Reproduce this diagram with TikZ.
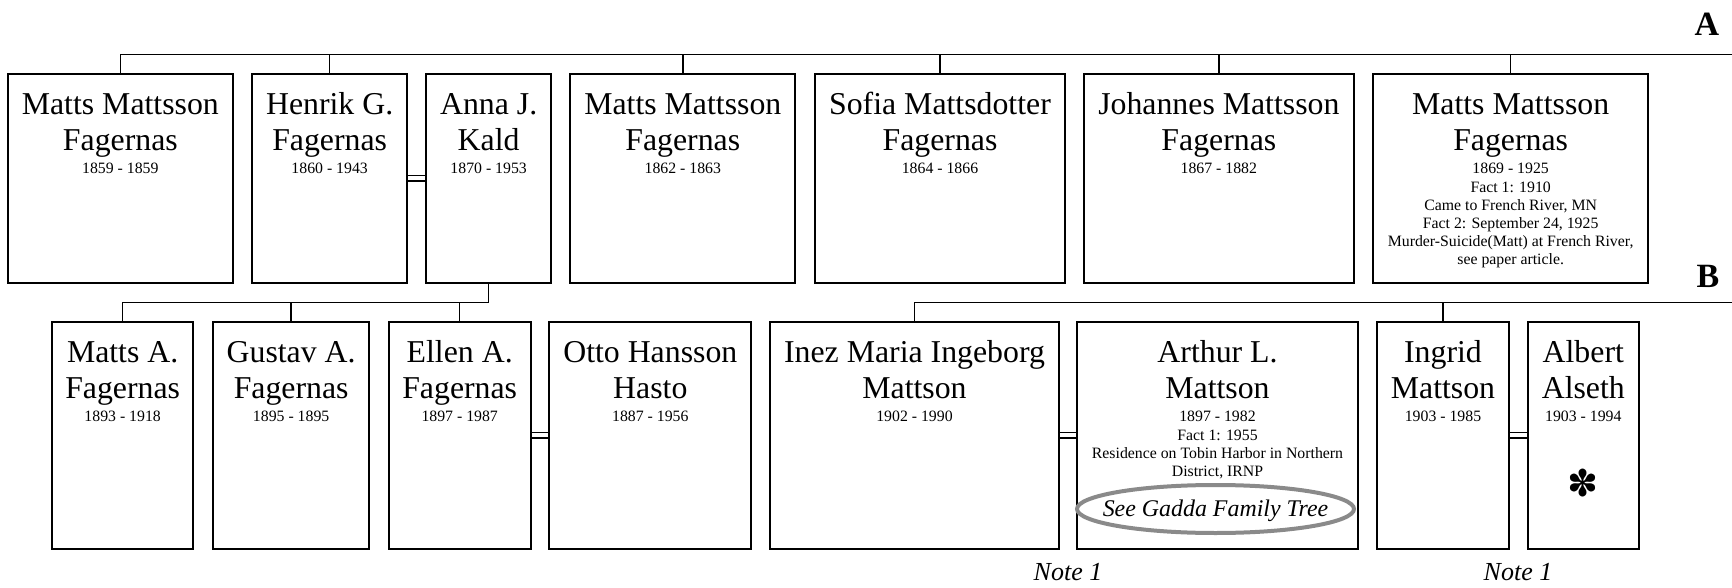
\documentclass[tikz,border=0pt]{standalone}
\usepackage{fontspec}
\setmainfont{Liberation Serif}
\newfontfamily\dingfont{DejaVu Sans}
\usetikzlibrary{calc}
\definecolor{ringgray}{HTML}{8A8A8A}

% name block and detail block inside a person box;
% both are anchored at the baseline of their last line,
% #4 = number of detail lines after the dates
\newcommand\persontext[4]{%
  \node[nametxt] (#1-name) at ([yshift=-78pt]#1.north) {#2};
  \pgfmathsetmacro\infoshift{101+#4*18.2}
  \node[datetxt] (#1-info) at ([yshift=-\infoshift pt]#1.north) {#3};}

\begin{document}
\begin{tikzpicture}[x=1pt,y=-1pt,
  pbox/.style={draw,line width=1.8pt,rectangle,inner sep=0pt},
  link/.style={line width=1.4pt},
  nametxt/.style={anchor=base,align=center,inner sep=0pt,font=\fontsize{31.8pt}{36pt}\selectfont},
  datetxt/.style={anchor=base,align=center,inner sep=0pt,font=\fontsize{15.8pt}{18.2pt}\selectfont},
  notetxt/.style={anchor=base,inner sep=0pt,font=\fontsize{26pt}{26pt}\selectfont\itshape},
  gentxt/.style={anchor=base,inner sep=0pt,font=\fontsize{34pt}{34pt}\selectfont\bfseries},
  ring/.style={draw=ringgray,line width=4pt},
  row1/.style={pbox,minimum height=209pt},
  row2/.style={pbox,minimum height=227.3pt}]
\useasboundingbox (0,0) rectangle (1732,588);

% ---- generation A
\node[row1,minimum width=225.3pt] (b1) at (120.35,178.2) {};
\node[row1,minimum width=154.7pt] (henrik) at (329.65,178.2) {};
\node[row1,minimum width=124.7pt] (anna) at (488.65,178.2) {};
\node[row1,minimum width=225pt] (b4) at (682.8,178.2) {};
\node[row1,minimum width=250pt] (sofia) at (940,178.2) {};
\node[row1,minimum width=269.7pt] (johannes) at (1218.85,178.2) {};
\node[row1,minimum width=275.3pt] (b7) at (1510.65,178.2) {};

\persontext{b1}{Matts Mattsson\\Fagernas}{1859 - 1859}{0}
\persontext{henrik}{Henrik G.\\Fagernas}{1860 - 1943}{0}
\persontext{anna}{Anna J.\\Kald}{1870 - 1953}{0}
\persontext{b4}{Matts Mattsson\\Fagernas}{1862 - 1863}{0}
\persontext{sofia}{Sofia Mattsdotter\\Fagernas}{1864 - 1866}{0}
\persontext{johannes}{Johannes Mattsson\\Fagernas}{1867 - 1882}{0}
\persontext{b7}{Matts Mattsson\\Fagernas}{1869 - 1925\\Fact 1: 1910\\Came to French River, MN\\Fact 2: September 24, 1925\\Murder-Suicide(Matt) at French River,\\see paper article.}{5}

% ---- generation B
\node[row2,minimum width=141.3pt] (mattsA) at (122.65,435.35) {};
\node[row2,minimum width=156.3pt] (gustav) at (291.15,435.35) {};
\node[row2,minimum width=142pt] (ellen) at (459.7,435.35) {};
\node[row2,minimum width=202pt] (otto) at (650.3,435.35) {};
\node[row2,minimum width=288.4pt] (inez) at (914.5,435.35) {};
\node[row2,minimum width=281pt] (arthur) at (1217.5,435.35) {};
\node[row2,minimum width=132pt] (ingrid) at (1443,435.35) {};
\node[row2,minimum width=111.4pt] (albert) at (1583.3,435.35) {};

\persontext{mattsA}{Matts A.\\Fagernas}{1893 - 1918}{0}
\persontext{gustav}{Gustav A.\\Fagernas}{1895 - 1895}{0}
\persontext{ellen}{Ellen A.\\Fagernas}{1897 - 1987}{0}
\persontext{otto}{Otto Hansson\\Hasto}{1887 - 1956}{0}
\persontext{inez}{Inez Maria Ingeborg\\Mattson}{1902 - 1990}{0}
\persontext{arthur}{Arthur L.\\Mattson}{1897 - 1982\\Fact 1: 1955\\Residence on Tobin Harbor in Northern\\District, IRNP}{3}
\persontext{ingrid}{Ingrid\\Mattson}{1903 - 1985}{0}
\persontext{albert}{Albert\\Alseth}{1903 - 1994}{0}

% cross-reference ring in Arthur's box
\node[inner sep=0pt,font=\fontsize{23.9pt}{24pt}\selectfont\itshape,text height=15.8pt,text depth=0pt] (gadda) at (1215.5,509) {See Gadda Family Tree};
\draw[ring] (gadda.center) ellipse [x radius=138.5, y radius=24];

% marker in Albert's box
\node[inner sep=0pt,font=\dingfont\fontsize{37pt}{37pt}\selectfont] (star) at (1583.3,483) {✽};

% ---- sibling lines
\coordinate (topEnd) at (1732,54.3);
\draw[link] (b1.north) |- (topEnd);
\foreach \n in {henrik,b4,sofia,johannes,b7}
  \draw[link] (\n.north) -- (\n.north |- topEnd);

\coordinate (famL) at (488.65,302.3);
\draw[link] (anna.south) -- (famL) -| (mattsA.north);
\draw[link] (gustav.north) -- (gustav.north |- famL);
\draw[link] (ellen.north) -- (ellen.north |- famL);

\coordinate (famR) at (1732,302.3);
\draw[link] (inez.north) |- (famR);
\draw[link] (ingrid.north) -- (ingrid.north |- famR);

% ---- marriage links
\foreach \a/\b in {henrik/anna,ellen/otto,inez/arthur,ingrid/albert}{
  \draw[link] ([yshift=2.7pt]\a.east) -- ([yshift=2.7pt]\b.west);
  \draw[link] ([yshift=-2.7pt]\a.east) -- ([yshift=-2.7pt]\b.west);
}

% ---- generation labels and notes
\node[gentxt] (genA) at (1707,36) {A};
\node[gentxt] (genB) at (1708,287) {B};
\node[notetxt] (note1) at (1068,580) {Note 1};
\node[notetxt] (note2) at (1518,580) {Note 1};
\end{tikzpicture}
\end{document}
